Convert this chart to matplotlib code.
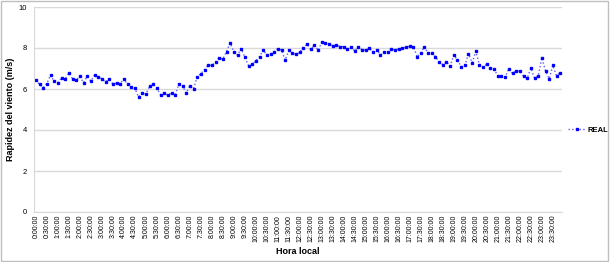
import matplotlib
matplotlib.use('Agg')
import matplotlib.pyplot as plt
from matplotlib.patches import Rectangle

# horas cada 10 minutos (0:00:00 ... 23:50:00)
horas = ['%d:%02d:00' % (h, m) for h in range(24) for m in range(0, 60, 10)]

velocidad = [6.45, 6.22, 6.06, 6.26, 6.68, 6.37, 6.31, 6.55, 6.49, 6.78,
             6.50, 6.43, 6.61, 6.31, 6.61, 6.39, 6.66, 6.60, 6.50, 6.36,
             6.47, 6.25, 6.29, 6.26, 6.50, 6.22, 6.11, 6.04, 5.61, 5.80,
             5.75, 6.13, 6.22, 6.04, 5.72, 5.80, 5.70, 5.82, 5.70, 6.24,
             6.16, 5.80, 6.15, 6.00, 6.60, 6.75, 6.95, 7.15, 7.15, 7.30,
             7.53, 7.46, 7.82, 8.24, 7.81, 7.66, 7.97, 7.56, 7.14, 7.22,
             7.37, 7.58, 7.90, 7.66, 7.72, 7.82, 7.97, 7.90, 7.41, 7.88,
             7.74, 7.69, 7.80, 8.01, 8.19, 7.93, 8.15, 7.88, 8.29, 8.22,
             8.19, 8.11, 8.15, 8.07, 8.07, 7.93, 8.06, 7.85, 8.07, 7.90,
             7.90, 7.98, 7.80, 7.91, 7.66, 7.80, 7.80, 7.95, 7.91, 7.96,
             7.98, 8.04, 8.09, 8.06, 7.56, 7.77, 8.06, 7.74, 7.74, 7.58,
             7.32, 7.19, 7.32, 7.12, 7.66, 7.41, 7.09, 7.15, 7.71, 7.28,
             7.84, 7.17, 7.06, 7.22, 7.02, 6.96, 6.65, 6.63, 6.57, 7.00,
             6.76, 6.88, 6.88, 6.63, 6.52, 7.02, 6.53, 6.63, 7.53, 6.88,
             6.50, 7.15, 6.65, 6.80]

plt.rcParams['font.family'] = ['Liberation Sans', 'DejaVu Sans']

fig = plt.figure(figsize=(6.1, 2.62), dpi=100)
ax = fig.add_axes([34/610, 1-212/262, 528/610, 205/262])

ax.plot(horas, velocidad, color='#5c5cff', linestyle=':', linewidth=1.0,
        marker='s', markersize=2.0, markerfacecolor='#0000ff',
        markeredgecolor='#0000ff', label='REAL')

ax.set_ylim(0, 10)
ax.set_yticks(range(0, 11, 2))
ax.set_xlim(-0.5, len(horas) - 0.5)
ax.set_xticks(range(0, len(horas), 3))
ax.set_xticklabels(horas[::3], rotation=90, fontsize=5)
ax.tick_params(axis='y', labelsize=5.5, length=0, pad=5)
ax.tick_params(axis='x', length=0, pad=2)

ax.grid(axis='y', color='#d9d9d9', linewidth=1)
ax.set_axisbelow(True)
for s in ['top', 'right']:
    ax.spines[s].set_visible(False)
ax.spines['left'].set_color('#d9d9d9')
ax.spines['bottom'].set_color('#d9d9d9')

ax.set_xlabel('Hora local', fontsize=6.5, fontweight='bold', labelpad=3)
ax.set_ylabel('Rapidez del viento (m/s)', fontsize=6.5, fontweight='bold', labelpad=3)

leg = ax.legend(loc='center left', bbox_to_anchor=(1.005, 0.4), frameon=False,
                fontsize=5.5, handlelength=2.2, handletextpad=0.3, borderpad=0)
for t in leg.get_texts():
    t.set_fontweight('bold')

# borde del area del grafico
fig.patches.append(Rectangle((0.002, 0.004), 0.994, 0.992, transform=fig.transFigure,
                             fill=False, edgecolor='#bfbfbf', linewidth=1))

plt.savefig('out.png', dpi=100)
